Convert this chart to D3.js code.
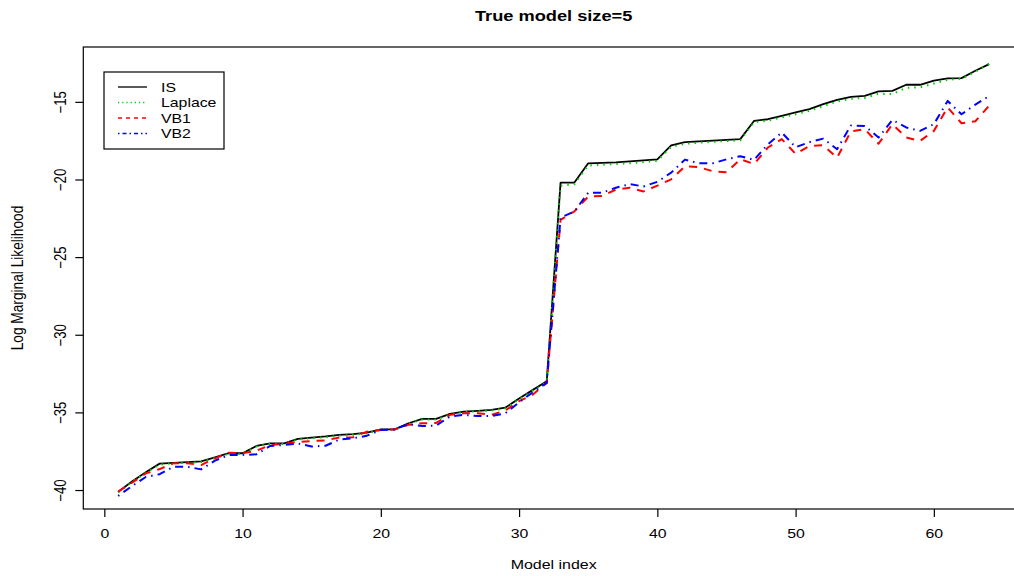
<!DOCTYPE html>
<html>
<head>
<meta charset="utf-8">
<script src="https://cdn.jsdelivr.net/npm/d3@7"></script>
<style>
  body { margin: 0; background: #fff; }
  svg { font-family: "Liberation Sans", Arial, Helvetica, sans-serif; }
</style>
</head>
<body>
<svg id="chart" width="1014" height="576"></svg>
<script>
// model index 1..64
const modelIndex = d3.range(1, 65);

const isVals = [
  -40.12, -39.45, -38.85, -38.30, -38.25, -38.20, -38.15, -37.90, -37.63, -37.63,
  -37.16, -36.99, -36.99, -36.70, -36.62, -36.55, -36.45, -36.40, -36.30, -36.09,
  -36.09, -35.70, -35.42, -35.42, -35.10, -34.95, -34.90, -34.84, -34.70, -34.10,
  -33.55, -33.00, -20.20, -20.20, -18.96, -18.93, -18.90, -18.83, -18.77, -18.70,
  -17.80, -17.60, -17.55, -17.50, -17.45, -17.40, -16.22, -16.12, -15.90, -15.68,
  -15.47, -15.15, -14.87, -14.68, -14.61, -14.33, -14.29, -13.90, -13.90, -13.64,
  -13.49, -13.47, -13.00, -12.57
];

const laplaceVals = [
  -40.15, -39.48, -38.90, -38.36, -38.28, -38.24, -38.20, -37.95, -37.66, -37.68,
  -37.20, -37.02, -37.03, -36.74, -36.66, -36.60, -36.50, -36.44, -36.35, -36.12,
  -36.12, -35.74, -35.46, -35.46, -35.14, -34.98, -34.93, -34.88, -34.74, -34.15,
  -33.60, -33.05, -20.40, -20.30, -19.10, -19.05, -19.00, -18.95, -18.88, -18.80,
  -17.90, -17.70, -17.63, -17.58, -17.52, -17.48, -16.30, -16.22, -16.00, -15.80,
  -15.58, -15.28, -14.98, -14.80, -14.75, -14.48, -14.50, -14.10, -14.07, -13.82,
  -13.57, -13.52, -13.06, -12.55
];

const vb1Vals = [
  -40.10, -39.53, -38.93, -38.65, -38.28, -38.28, -38.39, -37.96, -37.60, -37.63,
  -37.47, -37.10, -37.03, -36.90, -36.85, -36.80, -36.62, -36.60, -36.24, -36.13,
  -36.10, -35.80, -35.70, -35.68, -35.16, -35.05, -35.05, -35.16, -34.88, -34.28,
  -33.85, -33.10, -22.60, -22.05, -21.10, -21.07, -20.65, -20.53, -20.77, -20.40,
  -19.99, -19.15, -19.20, -19.47, -19.53, -18.70, -19.00, -17.94, -17.40, -18.35,
  -17.84, -17.80, -18.60, -16.90, -16.76, -17.70, -16.44, -17.30, -17.52, -16.87,
  -15.36, -16.38, -16.25, -15.24
];

const vb2Vals = [
  -40.38, -39.75, -39.16, -38.98, -38.50, -38.50, -38.67, -38.11, -37.74, -37.74,
  -37.70, -37.16, -37.10, -37.00, -37.20, -37.15, -36.75, -36.67, -36.50, -36.13,
  -36.10, -35.75, -35.88, -35.85, -35.27, -35.16, -35.23, -35.23, -35.06, -34.35,
  -33.70, -33.10, -22.46, -22.06, -20.85, -20.85, -20.53, -20.30, -20.45, -20.15,
  -19.56, -18.72, -18.96, -18.96, -18.70, -18.50, -18.74, -17.73, -16.98, -17.92,
  -17.60, -17.37, -18.05, -16.52, -16.55, -17.30, -16.16, -16.65, -16.87, -16.44,
  -14.94, -15.80, -15.18, -14.62
];

const xTicks = [0, 10, 20, 30, 40, 50, 60];
const yTicks = [-40, -35, -30, -25, -20, -15];

const series = [
  { name: "IS", values: isVals, color: "#000000", width: 1.8, dash: null, legendDash: null },
  { name: "Laplace", values: laplaceVals, color: "#00cd00", width: 2, dash: "1.5,5", legendDash: "1.2,3" },
  { name: "VB1", values: vb1Vals, color: "#ff0000", width: 2, dash: "8,7", legendDash: "4,4" },
  { name: "VB2", values: vb2Vals, color: "#0000ff", width: 2, dash: "1.5,5,8,5", legendDash: "1.5,3,4,3" }
];

const svg = d3.select("#chart");
const plotLeft = 83.3, plotRight = 1024, plotTop = 47, plotBottom = 509;
const stretch = "scale(1.2,1)"; // text in the picture is wider than tall

// R-style 4% padding on both axes
const xExt = d3.extent(modelIndex);
const xPad = (xExt[1] - xExt[0]) * 0.04;
const yExt = d3.extent(isVals);
const yPad = (yExt[1] - yExt[0]) * 0.04;

const xScale = d3.scaleLinear()
  .domain([xExt[0] - xPad, xExt[1] + xPad])
  .range([plotLeft, plotRight]);

const yScale = d3.scaleLinear()
  .domain([yExt[0] - yPad, yExt[1] + yPad])
  .range([plotBottom, plotTop]);

// lines
const line = d3.line()
  .x((d, i) => xScale(modelIndex[i]))
  .y(d => yScale(d));

svg.append("g")
  .selectAll("path")
  .data(series)
  .join("path")
  .attr("d", d => line(d.values))
  .attr("fill", "none")
  .attr("stroke", d => d.color)
  .attr("stroke-width", d => d.width)
  .attr("stroke-dasharray", d => d.dash)
  .attr("stroke-linejoin", "round");

// box
svg.append("rect")
  .attr("x", plotLeft)
  .attr("y", plotTop)
  .attr("width", plotRight - plotLeft)
  .attr("height", plotBottom - plotTop)
  .attr("fill", "none")
  .attr("stroke", "#000")
  .attr("stroke-width", 1.2);

// x axis
const xAxis = d3.axisBottom(xScale)
  .tickValues(xTicks)
  .tickSize(8)
  .tickPadding(12)
  .tickFormat(d3.format("d"));

svg.append("g")
  .attr("transform", `translate(0,${plotBottom})`)
  .call(xAxis)
  .call(g => g.select(".domain").remove())
  .call(g => g.selectAll("line").attr("stroke", "#000").attr("stroke-width", 1.2))
  .call(g => g.selectAll("text")
    .attr("font-size", 13.2)
    .attr("fill", "#000")
    .attr("font-family", "Liberation Sans, Arial, sans-serif")
    .attr("transform", stretch));

// y axis (labels parallel to the axis, as in R)
const yAxis = d3.axisLeft(yScale)
  .tickValues(yTicks)
  .tickSize(8)
  .tickFormat(d => String(d).replace("-", "\u2212"));

svg.append("g")
  .attr("transform", `translate(${plotLeft},0)`)
  .call(yAxis)
  .call(g => g.select(".domain").remove())
  .call(g => g.selectAll("line").attr("stroke", "#000").attr("stroke-width", 1.2))
  .call(g => g.selectAll("text")
    .attr("x", null)
    .attr("dy", null)
    .attr("font-size", 13.2)
    .attr("fill", "#000")
    .attr("font-family", "Liberation Sans, Arial, sans-serif")
    .attr("text-anchor", "middle")
    .attr("transform", `translate(-21,0) ${stretch} rotate(-90)`)
    .attr("dominant-baseline", "middle"));

// title and axis labels
svg.append("text")
  .attr("transform", `translate(${(plotLeft + plotRight) / 2},21) ${stretch}`)
  .attr("text-anchor", "middle")
  .attr("font-size", 15.2)
  .attr("font-weight", "bold")
  .text("True model size=5");

svg.append("text")
  .attr("transform", `translate(${(plotLeft + plotRight) / 2},569) ${stretch}`)
  .attr("text-anchor", "middle")
  .attr("font-size", 13.3)
  .text("Model index");

svg.append("text")
  .attr("transform", `translate(23,${(plotTop + plotBottom) / 2}) ${stretch} rotate(-90)`)
  .attr("text-anchor", "middle")
  .attr("font-size", 13.7)
  .text("Log Marginal Likelihood");

// legend
const legend = svg.append("g").attr("transform", "translate(104,72)");

legend.append("rect")
  .attr("width", 120)
  .attr("height", 77)
  .attr("fill", "#fff")
  .attr("stroke", "#000")
  .attr("stroke-width", 1.2);

const rows = legend.selectAll(".row")
  .data(series)
  .join("g")
  .attr("class", "row")
  .attr("transform", (d, i) => `translate(0,${15 + i * 15.5})`);

rows.append("line")
  .attr("x1", 14)
  .attr("x2", 43)
  .attr("stroke", d => d.color)
  .attr("stroke-width", 1.3)
  .attr("stroke-dasharray", d => d.legendDash);

rows.append("text")
  .attr("transform", `translate(57,0) ${stretch}`)
  .attr("dy", "0.35em")
  .attr("font-size", 13.2)
  .text(d => d.name);
</script>
</body>
</html>
